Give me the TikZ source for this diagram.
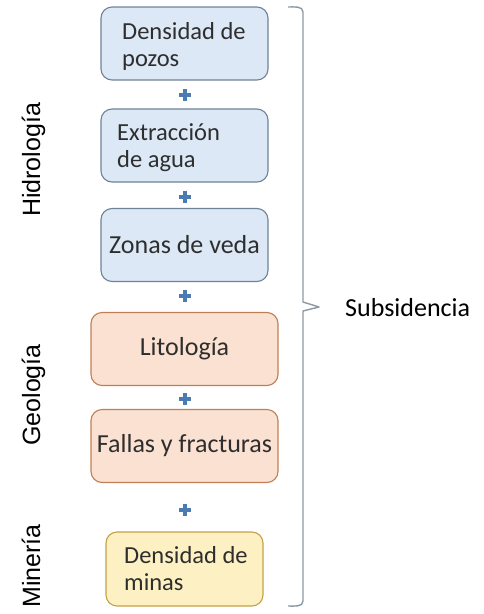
\documentclass[tikz,border=0pt]{standalone}
\usepackage{fontspec}
\newfontfamily\boxfont{Carlito}
\newfontfamily\sidefont{Liberation Sans}
\definecolor{bluefill}{HTML}{DCE8F5}
\definecolor{blueline}{HTML}{6F8297}
\definecolor{orfill}{HTML}{FBE1D1}
\definecolor{orline}{HTML}{C07E55}
\definecolor{yefill}{HTML}{FDF1C3}
\definecolor{yeline}{HTML}{C4A243}
\definecolor{txtgray}{HTML}{2E2E2E}
\definecolor{plusblue}{HTML}{4A7BB2}
\definecolor{bracegray}{HTML}{8C98A4}
\tikzset{
  basebox/.style={rounded corners=11pt, line width=1.1pt, inner sep=0pt},
  bluebox/.style={basebox, draw=blueline, fill=bluefill, minimum width=167pt, minimum height=73pt},
  orbox/.style={basebox, draw=orline, fill=orfill, minimum width=187pt, minimum height=73pt},
  yebox/.style={basebox, draw=yeline, fill=yefill, minimum width=157pt, minimum height=74pt},
  boxtxt/.style={inner sep=0pt, align=left, text=txtgray, font=\boxfont\fontsize{24.5}{27}\selectfont},
  bigtxt/.style={boxtxt, font=\boxfont\fontsize{26}{30}\selectfont},
  sidetxt/.style={inner sep=0pt, rotate=90, anchor=base, font=\sidefont\fontsize{25}{30}\selectfont},
  plussign/.pic={
    \fill[plusblue] (-6,-2.2) rectangle (6,2.2);
    \fill[plusblue] (-2.2,-6) rectangle (2.2,6);
  }
}
\begin{document}
\begin{tikzpicture}[x=1pt, y=-1pt]
\useasboundingbox (0,0) rectangle (483,614);
% boxes
\node[bluebox] (b1) at (184.5,43.5) {};
\node[bluebox] (b2) at (184.5,145.5) {};
\node[bluebox] (b3) at (184.5,245) {};
\node[orbox] (b4) at (184.5,349) {};
\node[orbox] (b5) at (184.5,446) {};
\node[yebox] (b6) at (184.5,569) {};
% texts
\node[boxtxt, anchor=north west] (t1) at (122,22) {Densidad de\\pozos};
\node[boxtxt, anchor=north west] (t2) at (117,123) {Extracción\\de agua};
\node[bigtxt] (t3) at (b3.center) {Zonas de veda};
\node[bigtxt] (t4) at (b4.center) {Litología};
\node[bigtxt] (t5) at (b5.center) {Fallas y fracturas};
\node[boxtxt, anchor=north west] (t6) at (124,546) {Densidad de\\minas};
% plus signs
\pic at (185,95) {plussign};
\pic at (185,197) {plussign};
\pic at (185,296) {plussign};
\pic at (185,399) {plussign};
\pic at (185,510) {plussign};
% brace
\coordinate (bt) at (288,7);
\coordinate (bb) at (288,606);
\coordinate (tip) at (319,307);
\draw[bracegray, line width=1.4pt, line join=round]
  (bt) to[out=0,in=90] (303,12) -- (303,302) -- (tip) -- (303,311) -- (303,601) to[out=-90,in=0] (bb);
\node[anchor=base west, inner sep=0pt, font=\boxfont\fontsize{26}{30}\selectfont] (sub) at (345,316) {Subsidencia};
% side labels
\node[sidetxt] (h) at (40,160) {Hidrología};
\node[sidetxt] (g) at (40,395) {Geología};
\node[sidetxt] (m) at (40,566) {Minería};
\end{tikzpicture}
\end{document}
